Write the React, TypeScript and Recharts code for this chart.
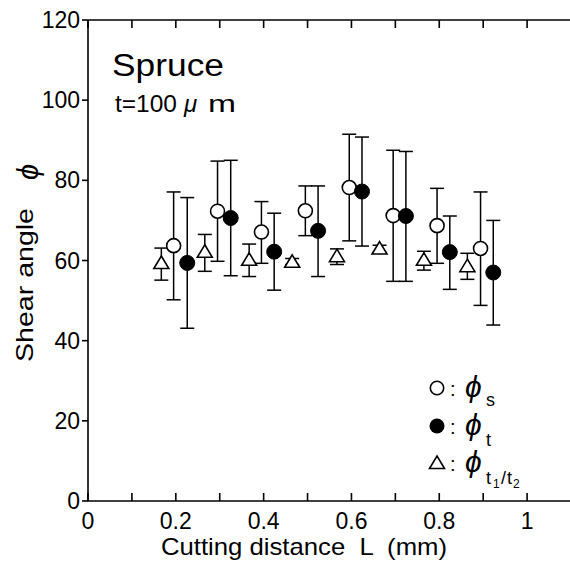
import { ScatterChart, Scatter, XAxis, YAxis, ErrorBar } from 'recharts';

const FONT = '"Liberation Sans", Arial, "DejaVu Sans", sans-serif';

const X_TICKS = [0, 0.1, 0.2, 0.3, 0.4, 0.5, 0.6, 0.7, 0.8, 0.9, 1.0];
const Y_TICKS = [0, 20, 40, 60, 80, 100, 120];

// phi_s (open circles)
const sX = [0.195, 0.295, 0.395, 0.495, 0.595, 0.695, 0.795, 0.894];
const sY = [63.7, 72.3, 67.1, 72.4, 78.2, 71.2, 68.7, 63.0];
const sLo = [50.2, 59.8, 59.3, 66.2, 64.9, 54.8, 59.3, 48.8];
const sHi = [77.1, 84.8, 74.7, 78.6, 91.5, 87.5, 78.0, 77.1];

// phi_t (filled circles)
const tX = [0.226, 0.325, 0.424, 0.524, 0.624, 0.724, 0.824, 0.923];
const tY = [59.4, 70.6, 62.2, 67.4, 77.2, 71.1, 62.1, 57.0];
const tLo = [43.1, 56.2, 52.6, 56.0, 63.6, 54.8, 52.8, 43.9];
const tHi = [75.7, 85.0, 71.8, 78.6, 90.8, 87.2, 71.1, 70.0];

// phi_t1/t2 (triangles)
const rX = [0.167, 0.266, 0.367, 0.465, 0.567, 0.664, 0.765, 0.864];
const rY = [59.5, 62.3, 60.3, 59.8, 61.2, 63.1, 60.3, 58.7];
const rLo = [55.1, 57.3, 56.0, 59.0, 59.0, 62.0, 57.6, 55.3];
const rHi = [63.1, 66.5, 64.1, 60.5, 62.9, 63.8, 62.3, 61.8];

const build = (x: number[], y: number[], lo: number[], hi: number[]) =>
  x.map((v, i) => ({ x: v, y: y[i], err: [y[i] - lo[i], hi[i] - y[i]] }));

const dataS = build(sX, sY, sLo, sHi);
const dataT = build(tX, tY, tLo, tHi);
const dataR = build(rX, rY, rLo, rHi);

const OpenCircle = (p: any) => <circle cx={p.cx} cy={p.cy} r={7} fill="#fff" stroke="#000" strokeWidth={1.6} />;
const FilledCircle = (p: any) => <circle cx={p.cx} cy={p.cy} r={7.5} fill="#000" stroke="#000" />;
const Triangle = (p: any) => (
  <polygon
    points={`${p.cx},${p.cy - 6.5} ${p.cx + 7.5},${p.cy + 6} ${p.cx - 7.5},${p.cy + 6}`}
    fill="#fff" stroke="#000" strokeWidth={1.6}
  />
);

const fx = (v: number) => (Math.round(v * 10) % 2 === 0 ? String(Math.round(v * 10) / 10) : '');
const tickStyle = { fill: '#000', fontSize: 23, fontFamily: FONT };
const line = { stroke: '#000', strokeWidth: 1.6 };

export default function App() {
  return (
    <div style={{ position: 'absolute', left: 0, top: 0, width: 570, height: 562, overflow: 'hidden', background: '#fff' }}>
      <ScatterChart width={580} height={562} margin={{ top: 0, right: 9, bottom: 0, left: 0 }}>
        <XAxis xAxisId="b" type="number" dataKey="x" domain={[0, 1.1]} ticks={X_TICKS} interval={0}
          tickFormatter={fx} tickSize={-8} tickMargin={20} height={61} axisLine={line} tickLine={line} tick={tickStyle} allowDataOverflow />
        <XAxis xAxisId="t" orientation="top" type="number" dataKey="x" domain={[0, 1.1]} ticks={X_TICKS} interval={0}
          tickFormatter={() => ''} tickSize={-8} height={20} axisLine={line} tickLine={line} tick={tickStyle} allowDataOverflow />
        <YAxis type="number" dataKey="y" domain={[0, 120]} ticks={Y_TICKS} interval={0} width={88}
          tickSize={6} tickMargin={2} axisLine={line} tickLine={line} tick={tickStyle} />
        <Scatter data={dataR} xAxisId="b" shape={Triangle} isAnimationActive={false}>
          <ErrorBar dataKey="err" direction="y" width={7} stroke="#000" strokeWidth={1.5} isAnimationActive={false} />
        </Scatter>
        <Scatter data={dataS} xAxisId="b" shape={OpenCircle} isAnimationActive={false}>
          <ErrorBar dataKey="err" direction="y" width={7} stroke="#000" strokeWidth={1.5} isAnimationActive={false} />
        </Scatter>
        <Scatter data={dataT} xAxisId="b" shape={FilledCircle} isAnimationActive={false}>
          <ErrorBar dataKey="err" direction="y" width={7} stroke="#000" strokeWidth={1.5} isAnimationActive={false} />
        </Scatter>
      </ScatterChart>

      <svg width={570} height={562} style={{ position: 'absolute', left: 0, top: 0, pointerEvents: 'none' }}
        fontFamily={FONT} fill="#000">
        <text x={112} y={76} fontSize={31} textLength={112} lengthAdjust="spacingAndGlyphs">Spruce</text>
        <text x={115} y={112} fontSize={24} textLength={62} lengthAdjust="spacingAndGlyphs">t=100</text>
        <text x={184} y={112} fontSize={24} fontStyle="italic">μ</text>
        <text x={208} y={112} fontSize={24} textLength={28} lengthAdjust="spacingAndGlyphs">m</text>

        <text x={33} y={362} fontSize={24} transform="rotate(-90 33 362)" textLength={154} lengthAdjust="spacingAndGlyphs">Shear angle</text>
        <text x={38} y={180} fontSize={29} fontStyle="italic" transform="rotate(-90 38 180)">ϕ</text>

        <text x={161} y={555} fontSize={24} style={{ whiteSpace: 'pre' }} textLength={286} lengthAdjust="spacingAndGlyphs">Cutting distance  L  (mm)</text>

        <circle cx={437} cy={388} r={6.7} fill="#fff" stroke="#000" strokeWidth={1.6} />
        <text x={450} y={396} fontSize={20}>:</text>
        <text x={465} y={397} fontSize={30} fontStyle="italic">ϕ</text>
        <text x={486} y={406} fontSize={18}>s</text>

        <circle cx={437} cy={426} r={7.5} fill="#000" />
        <text x={450} y={434} fontSize={20}>:</text>
        <text x={465} y={435} fontSize={30} fontStyle="italic">ϕ</text>
        <text x={486} y={446} fontSize={18}>t</text>

        <polygon points="437,456 444.5,468.5 429.5,468.5" fill="#fff" stroke="#000" strokeWidth={1.6} />
        <text x={450} y={471} fontSize={20}>:</text>
        <text x={465} y={472} fontSize={30} fontStyle="italic">ϕ</text>
        <text x={486} y={484} fontSize={18}>t</text>
        <text x={493} y={488} fontSize={12}>1</text>
        <text x={501} y={484} fontSize={18}>/</text>
        <text x={507} y={484} fontSize={18}>t</text>
        <text x={513} y={488} fontSize={12}>2</text>
      </svg>
    </div>
  );
}
